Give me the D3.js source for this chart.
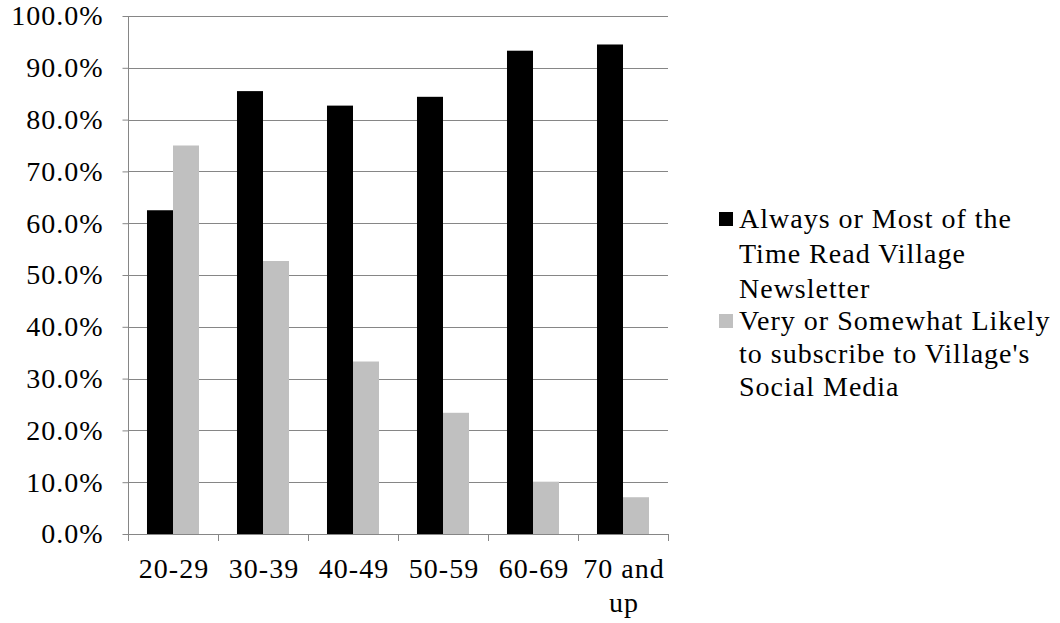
<!DOCTYPE html>
<html>
<head>
<meta charset="utf-8">
<script src="https://cdn.jsdelivr.net/npm/d3@7"></script>
<style>
  html, body { margin: 0; padding: 0; background: #fff; }
  svg { display: block; }
  text { font-family: "Liberation Serif", "Times New Roman", serif; fill: #000; letter-spacing: 1px; }
</style>
</head>
<body>
<svg id="chart" width="1060" height="623"></svg>
<script>
// Age groups shown on the horizontal axis (second line of a label after "\n")
const categories = ["20-29", "30-39", "40-49", "50-59", "60-69", "70 and\nup"];

// Share of respondents, in percent
const newsletterValues = [62.5, 85.5, 82.7, 84.4, 93.3, 94.5];
const socialValues = [75.0, 52.7, 33.3, 23.4, 10.1, 7.1];

const seriesNames = [
  ["Always or Most of the", "Time Read Village", "Newsletter"],
  ["Very or Somewhat Likely", "to subscribe to Village's", "Social Media"]
];
const seriesColors = ["#000000", "#c0c0c0"];

const yTicks = [0, 10, 20, 30, 40, 50, 60, 70, 80, 90, 100];

const series = [newsletterValues, socialValues];

const svg = d3.select("#chart");
const plot = { left: 128, right: 668, top: 16, bottom: 534 };

const x0 = d3.scaleBand()
  .domain(categories)
  .range([plot.left, plot.right])
  .paddingInner(0)
  .paddingOuter(0);

const x1 = d3.scaleBand()
  .domain(d3.range(series.length))
  .range([0, x0.bandwidth()])
  .paddingInner(0)
  .paddingOuter(0.73);

const y = d3.scaleLinear()
  .domain([0, 100])
  .range([plot.bottom, plot.top]);

const gridColor = "#868686";

// Horizontal gridlines
svg.append("g")
  .selectAll("line")
  .data(yTicks.filter(t => t > 0))
  .join("line")
  .attr("x1", plot.left)
  .attr("x2", plot.right)
  .attr("y1", d => Math.round(y(d)) + 0.5)
  .attr("y2", d => Math.round(y(d)) + 0.5)
  .attr("stroke", gridColor)
  .attr("stroke-width", 1);

// Bars
const groups = svg.append("g")
  .selectAll("g")
  .data(categories.map((c, i) => ({ cat: c, vals: series.map(s => s[i]) })))
  .join("g")
  .attr("transform", d => `translate(${x0(d.cat)},0)`);

groups.selectAll("rect")
  .data(d => d.vals.map((v, k) => ({ v, k })))
  .join("rect")
  .attr("x", d => x1(d.k))
  .attr("width", x1.bandwidth())
  .attr("y", d => y(d.v))
  .attr("height", d => y(0) - y(d.v))
  .attr("fill", d => seriesColors[d.k]);

// Y axis
const yAxis = svg.append("g")
  .attr("transform", `translate(${plot.left + 0.5},0)`)
  .call(d3.axisLeft(y)
    .tickValues(yTicks)
    .tickFormat(d => d3.format(".1f")(d) + "%")
    .tickSize(6)
    .tickPadding(19));
yAxis.attr("font-family", null);
yAxis.select(".domain").attr("stroke", gridColor).attr("d", `M0,${plot.top}V${plot.bottom}`);
yAxis.selectAll(".tick line").attr("stroke", gridColor);
yAxis.selectAll(".tick text")
  .attr("font-size", 28)
  .attr("fill", "#000");

// X axis with ticks at category boundaries
const xAxisG = svg.append("g");
xAxisG.append("line")
  .attr("x1", plot.left)
  .attr("x2", plot.right)
  .attr("y1", plot.bottom + 0.5)
  .attr("y2", plot.bottom + 0.5)
  .attr("stroke", gridColor);
const boundaries = categories.map(c => x0(c)).concat([x0(categories[categories.length - 1]) + x0.bandwidth()]);
xAxisG.selectAll("line.tk")
  .data(boundaries)
  .join("line")
  .attr("class", "tk")
  .attr("x1", d => Math.round(d) + 0.5)
  .attr("x2", d => Math.round(d) + 0.5)
  .attr("y1", plot.bottom)
  .attr("y2", plot.bottom + 7)
  .attr("stroke", gridColor);

const xLabels = xAxisG.selectAll("text.cat")
  .data(categories)
  .join("text")
  .attr("class", "cat")
  .attr("text-anchor", "middle")
  .attr("font-size", 28)
  .attr("transform", d => `translate(${x0(d) + x0.bandwidth() / 2 + 1},578)`);
xLabels.selectAll("tspan")
  .data(d => d.split("\n"))
  .join("tspan")
  .attr("x", 0)
  .attr("y", (d, i) => i * 34)
  .text(d => d);

// Legend
const legend = svg.append("g").attr("transform", "translate(719,0)");
const legendTops = [228, 330];
const legendLineGap = [35, 33];
seriesNames.forEach((lines, k) => {
  const top = legendTops[k];
  legend.append("rect")
    .attr("x", 0)
    .attr("y", top - 16)
    .attr("width", 14)
    .attr("height", 14)
    .attr("fill", seriesColors[k]);
  const t = legend.append("text")
    .attr("font-size", 28)
    .attr("x", 20)
    .attr("y", top);
  t.selectAll("tspan")
    .data(lines)
    .join("tspan")
    .attr("x", 20)
    .attr("y", (d, i) => top + i * legendLineGap[k])
    .text(d => d);
});
</script>
</body>
</html>
